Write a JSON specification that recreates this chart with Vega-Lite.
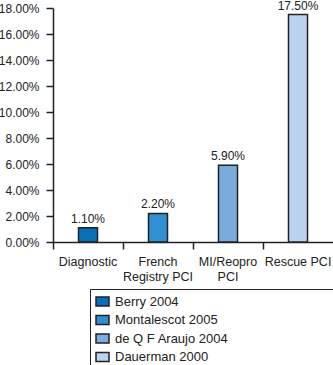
{
  "$schema": "https://vega.github.io/schema/vega-lite/v6.json",
  "width": 280,
  "height": 234,
  "autosize": {"type": "none"},
  "padding": {"left": 53, "top": 8, "right": 0, "bottom": 123},
  "background": "white",
  "config": {"view": {"stroke": null}, "font": "Liberation Sans"},
  "data": {"values": [
    {"category": "Diagnostic", "study": "Berry 2004", "value": 1.1, "text": "1.10%"},
    {"category": "French Registry PCI", "study": "Montalescot 2005", "value": 2.2, "text": "2.20%"},
    {"category": "MI/Reopro PCI", "study": "de Q F Araujo 2004", "value": 5.9, "text": "5.90%"},
    {"category": "Rescue PCI", "study": "Dauerman 2000", "value": 17.5, "text": "17.50%"}
  ]},
  "encoding": {
    "x": {
      "field": "category", "type": "nominal", "sort": null,
      "scale": {"paddingInner": 0, "paddingOuter": 0},
      "axis": {
        "title": null, "labelAngle": 0, "domainColor": "#222", "domainWidth": 1.5,
        "tickColor": "#222", "tickWidth": 1.5, "tickSize": 7, "bandPosition": 0,
        "labelExpr": "datum.value == 'French Registry PCI' ? ['French','Registry PCI'] : datum.value == 'MI/Reopro PCI' ? ['MI/Reopro','PCI'] : datum.value",
        "labelFontSize": 12.5, "labelColor": "#222", "labelPadding": 6, "labelLineHeight": 15
      }
    },
    "y": {
      "field": "value", "type": "quantitative",
      "scale": {"domain": [0, 18], "nice": false},
      "axis": {
        "title": null, "values": [0, 2, 4, 6, 8, 10, 12, 14, 16, 18],
        "labelExpr": "format(datum.value, '.2f') + '%'",
        "grid": false, "domainColor": "#222", "domainWidth": 1.5,
        "tickColor": "#222", "tickWidth": 1.5, "tickSize": 7,
        "labelFontSize": 12, "labelColor": "#222", "labelPadding": 7
      }
    }
  },
  "layer": [
    {
      "mark": {"type": "bar", "size": 19, "stroke": "#222", "strokeWidth": 1.5},
      "encoding": {
        "color": {
          "field": "study", "type": "nominal",
          "scale": {
            "domain": ["Berry 2004", "Montalescot 2005", "de Q F Araujo 2004", "Dauerman 2000"],
            "range": ["#0b6fb8", "#2f8fd0", "#7aacdd", "#bcd3ef"]
          },
          "legend": {
            "title": null, "orient": "none", "legendX": 37, "legendY": 281,
            "symbolType": "M-1,-0.7H1V0.7H-1Z", "symbolSize": 169, "symbolStrokeColor": "#222", "symbolStrokeWidth": 1.5,
            "labelFontSize": 13, "labelColor": "#222", "rowPadding": 1.5, "labelLimit": 300,
            "labelExpr": "datum.label == 'Montalescot 2005' ? datum.label + '\u2800\u2800\u2800\u2800\u2800\u2800\u2800\u2800\u2800\u2800\u2800' : datum.label",
            "strokeColor": "#222", "padding": 5, "labelOffset": 5,
            "fillColor": "white"
          }
        }
      }
    },
    {
      "mark": {"type": "text", "dy": -9, "fontSize": 12, "color": "#222"},
      "encoding": {"text": {"field": "text"}}
    }
  ]
}
